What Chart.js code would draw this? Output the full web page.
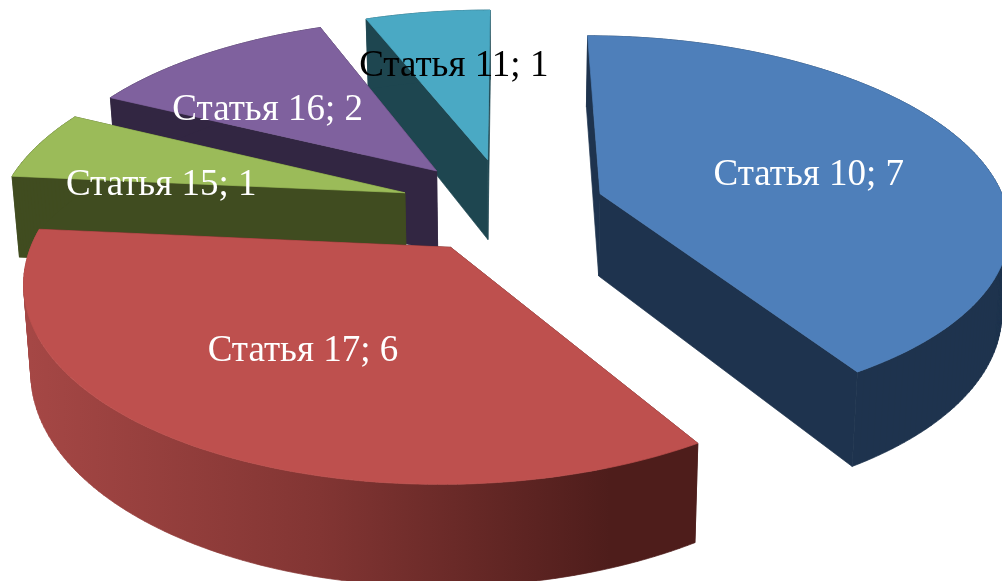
<!DOCTYPE html>
<html>
<head>
<meta charset="utf-8">
<title>Статьи</title>
<script src="https://cdn.jsdelivr.net/npm/chart.js@4"></script>
<style>
  html, body { margin: 0; padding: 0; background: #fff; overflow: hidden; }
  canvas { display: block; }
</style>
</head>
<body>
<canvas id="chart" width="1002" height="581"></canvas>
<script>
const categories = ['Статья 10', 'Статья 17', 'Статья 15', 'Статья 16', 'Статья 11']
const values = [7, 6, 1, 2, 1]

const topColors = ['#4e7fba', '#be504e', '#9bbb59', '#7f619e', '#4aa9c4']
const wallColors = ['#1e334e', '#4e1d1b', '#404c20', '#322642', '#1e4650']
const labelColors = ['#fff', '#fff', '#fff', '#fff', '#000']
const sliceOffsets = [46, 48, 50, 50, 50]
const labelReach = [0.55, 0.56, 0.65, 0.68, 0.58]
const labelDrop = [7, 0, 23, 20, -4]
const labelSide = [3, -9, -2, -6, 3]

// back to front, so nearer slices paint over farther ones
const paintOrder = [4, 3, 2, 0, 1]

// camera: maps the flat pie (in radius units) to the tilted view
const cam = { cx: 506.5, cy: 206, a: 406, b: 186, p: 0.155, depth: 83, shrink: 0.985 }

function project(u, v, low) {
  const w = 1 - cam.p * v
  const k = low ? cam.shrink : 1
  return {
    x: cam.cx + (k * cam.a * u) / w,
    y: cam.cy + (cam.b * v + (low ? cam.depth : 0)) / w,
  }
}

function rimAngles(start, end) {
  const steps = Math.ceil((end - start) / 0.02)
  return Array.from({ length: steps + 1 }, (_, i) => start + ((end - start) * i) / steps)
}

function tracePoly(ctx, pts) {
  pts.forEach((p, i) => (i ? ctx.lineTo(p.x, p.y) : ctx.moveTo(p.x, p.y)))
  ctx.closePath()
}

function paintPath(ctx, fill) {
  ctx.fillStyle = fill
  ctx.strokeStyle = fill
  ctx.lineWidth = 0.7
  ctx.fill()
  ctx.stroke()
}

function fillPoly(ctx, pts, fill) {
  ctx.beginPath()
  tracePoly(ctx, pts)
  paintPath(ctx, fill)
}

function signedArea(pts) {
  return pts.reduce((sum, p, i) => {
    const q = pts[(i + 1) % pts.length]
    return sum + p.x * q.y - q.x * p.y
  }, 0)
}

// one path with every quad wound the same way, so the wall has no seams
function fillRimWall(ctx, top, bottom, fill) {
  ctx.beginPath()
  for (let j = 0; j < top.length - 1; j += 1) {
    const quad = [top[j], top[j + 1], bottom[j + 1], bottom[j]]
    tracePoly(ctx, signedArea(quad) < 0 ? quad.reverse() : quad)
  }
  paintPath(ctx, fill)
}

function sliceGeometry(arc) {
  const { startAngle, endAngle, outerRadius, options } = arc
  const mid = (startAngle + endAngle) / 2
  const e = options.offset / outerRadius
  return { startAngle, endAngle, mid, ox: Math.cos(mid) * e, oy: Math.sin(mid) * e }
}

function drawSlice(ctx, arc, i) {
  const g = sliceGeometry(arc)
  const rim = rimAngles(g.startAngle, g.endAngle)
  const rimAt = (t, low) => project(g.ox + Math.cos(t), g.oy + Math.sin(t), low)
  const top = rim.map((t) => rimAt(t, false))
  const bottom = rim.map((t) => rimAt(t, true))
  const apexTop = project(g.ox, g.oy, false)
  const apexLow = project(g.ox, g.oy, true)
  const last = top.length - 1

  let rimFill = wallColors[i]
  if (i === 1) {
    // only the big front slice has the shaded outer wall
    const grad = ctx.createLinearGradient(30, 0, 610, 0)
    grad.addColorStop(0, '#a54745')
    grad.addColorStop(0.5, '#823533')
    grad.addColorStop(1, '#4e1d1b')
    rimFill = grad
  }

  fillPoly(ctx, [apexTop, top[last], bottom[last], apexLow], wallColors[i])
  fillPoly(ctx, [apexTop, top[0], bottom[0], apexLow], wallColors[i])
  fillRimWall(ctx, top, bottom, rimFill)
  fillPoly(ctx, [apexTop].concat(top), topColors[i])
}

const pie3d = {
  id: 'pie3d',
  beforeDatasetDraw(chart) {
    const ctx = chart.ctx
    const arcs = chart.getDatasetMeta(0).data
    paintOrder.forEach((i) => drawSlice(ctx, arcs[i], i))
    return false
  },
  afterDatasetsDraw(chart) {
    const ctx = chart.ctx
    const arcs = chart.getDatasetMeta(0).data
    ctx.save()
    ctx.font = '37px "Liberation Serif"'
    ctx.textAlign = 'center'
    ctx.textBaseline = 'middle'
    arcs.forEach((arc, i) => {
      const g = sliceGeometry(arc)
      const r = labelReach[i]
      const p = project(g.ox + Math.cos(g.mid) * r, g.oy + Math.sin(g.mid) * r, false)
      ctx.fillStyle = labelColors[i]
      ctx.fillText(`${categories[i]}; ${values[i]}`, p.x + labelSide[i], p.y + labelDrop[i] + 1)
    })
    ctx.restore()
  },
}

new Chart(document.getElementById('chart'), {
  type: 'pie',
  data: {
    labels: categories,
    datasets: [{ data: values, backgroundColor: topColors, borderWidth: 0, offset: sliceOffsets }],
  },
  options: {
    responsive: false,
    animation: false,
    radius: 190,
    plugins: { legend: { display: false }, tooltip: { enabled: false } },
  },
  plugins: [pie3d],
})
</script>
</body>
</html>
